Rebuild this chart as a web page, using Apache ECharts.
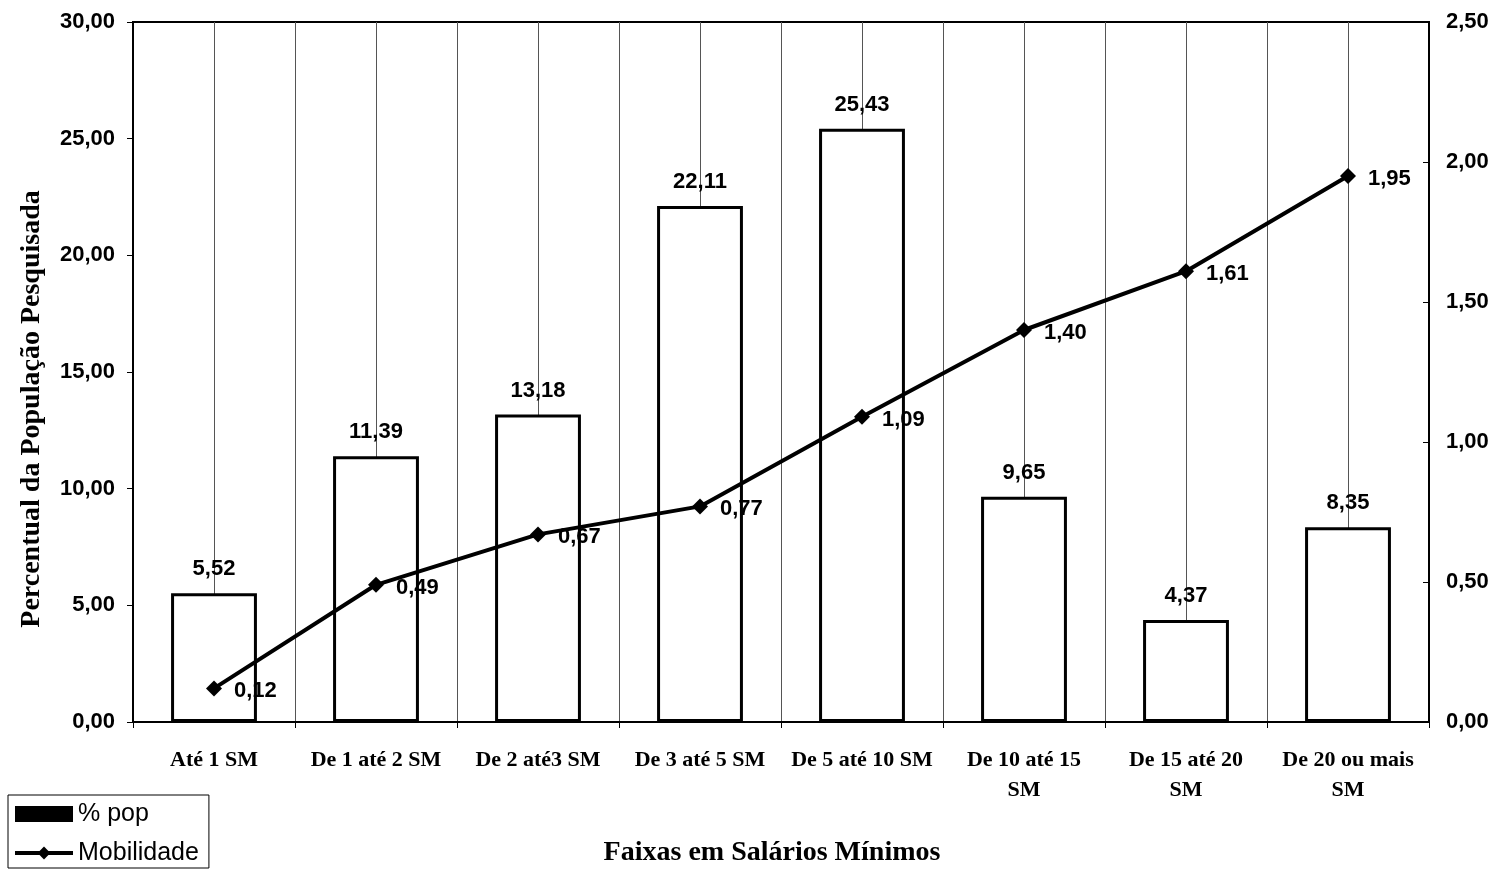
<!DOCTYPE html>
<html>
<head>
<meta charset="utf-8">
<script src="https://cdn.jsdelivr.net/npm/echarts@6/dist/echarts.min.js"></script>
<style>html,body{margin:0;padding:0;background:#fff;}#c{width:1499px;height:870px;}</style>
</head>
<body>
<div id="c"></div>
<script>
const categories = ['Até 1 SM','De 1 até 2 SM','De 2 até3 SM','De 3 até 5 SM','De 5 até 10 SM','De 10 até 15\nSM','De 15 até 20\nSM','De 20 ou mais\nSM'];
const popValues = [5.52, 11.39, 13.18, 22.11, 25.43, 9.65, 4.37, 8.35];
const mobilidadeValues = [0.12, 0.49, 0.67, 0.77, 1.09, 1.40, 1.61, 1.95];
const leftTicks = {min: 0, max: 30, interval: 5};
const rightTicks = {min: 0, max: 2.5, interval: 0.5};

const fmt = v => Number(v).toFixed(2).replace('.', ',');
const chart = echarts.init(document.getElementById('c'));
chart.setOption({
  animation: false,
  backgroundColor: '#fff',
  grid: {left: 133, right: 70, top: 22, bottom: 148, show: true, borderColor: '#000', borderWidth: 2},
  legend: {
    orient: 'vertical', left: 8, top: 795,
    padding: [6, 10, 2, 5],
    borderColor: '#000', borderWidth: 1,
    itemWidth: 58, itemHeight: 16, itemGap: 13,
    textStyle: {fontFamily: 'Arial, Liberation Sans', fontSize: 25, color: '#000', lineHeight: 26},
    data: [
      {name: '% pop', icon: 'rect', itemStyle: {color: '#000', borderWidth: 0}},
      {name: 'Mobilidade', lineStyle: {width: 4, color: '#000'}, itemStyle: {color: '#000'}}
    ]
  },
  xAxis: [{
    type: 'category', data: categories, boundaryGap: true,
    axisLine: {lineStyle: {color: '#000', width: 2}},
    axisTick: {show: true, length: 6, lineStyle: {color: '#000'}},
    axisLabel: {interval: 0, margin: 23, fontFamily: 'Liberation Serif, Times New Roman', fontWeight: 'bold', fontSize: 22, color: '#000', lineHeight: 30},
    splitLine: {show: false}
  }, {
    type: 'value', min: 0, max: 16, interval: 1, show: true, position: 'bottom',
    axisLine: {show: false}, axisTick: {show: false}, axisLabel: {show: false},
    splitLine: {show: true, lineStyle: {color: '#555', width: 1}}
  }],
  yAxis: [{
    type: 'value', min: leftTicks.min, max: leftTicks.max, interval: leftTicks.interval,
    axisLine: {show: true, lineStyle: {color: '#000', width: 2}},
    axisTick: {show: true, length: 6, lineStyle: {color: '#000'}},
    axisLabel: {formatter: fmt, margin: 18, fontFamily: 'Arial, Liberation Sans', fontWeight: 'bold', fontSize: 22, color: '#000'},
    splitLine: {show: false}
  }, {
    type: 'value', min: rightTicks.min, max: rightTicks.max, interval: rightTicks.interval, position: 'right',
    axisLine: {show: true, lineStyle: {color: '#000', width: 2}},
    axisTick: {show: true, inside: true, length: 6, lineStyle: {color: '#000'}},
    axisLabel: {formatter: fmt, margin: 17, fontFamily: 'Arial, Liberation Sans', fontWeight: 'bold', fontSize: 22, color: '#000'},
    splitLine: {show: false}
  }],
  graphic: [
    {type: 'text', x: 32, y: 409, rotation: Math.PI / 2,
     style: {text: 'Percentual da População Pesquisada', font: 'bold 28px "Liberation Serif", "Times New Roman", serif', fill: '#000', align: 'center', verticalAlign: 'middle'}},
    {type: 'text', x: 772, y: 853,
     style: {text: 'Faixas em Salários Mínimos', font: 'bold 28px "Liberation Serif", "Times New Roman", serif', fill: '#000', align: 'center', verticalAlign: 'middle'}}
  ],
  series: [{
    name: '% pop', type: 'bar', xAxisIndex: 0, yAxisIndex: 0, data: popValues,
    barWidth: '53%',
    itemStyle: {color: '#fff', borderColor: '#000', borderWidth: 3},
    label: {show: true, position: 'top', distance: 13, formatter: p => fmt(p.value), fontFamily: 'Arial, Liberation Sans', fontWeight: 'bold', fontSize: 22, color: '#000'}
  }, {
    name: 'Mobilidade', type: 'line', xAxisIndex: 0, yAxisIndex: 1, data: mobilidadeValues,
    symbol: 'diamond', symbolSize: 16,
    lineStyle: {color: '#000', width: 4},
    itemStyle: {color: '#000'},
    label: {show: true, position: 'right', distance: 12, offset: [0, 3], formatter: p => fmt(p.value), fontFamily: 'Arial, Liberation Sans', fontWeight: 'bold', fontSize: 22, color: '#000'},
    z: 5
  }]
});
</script>
</body>
</html>
